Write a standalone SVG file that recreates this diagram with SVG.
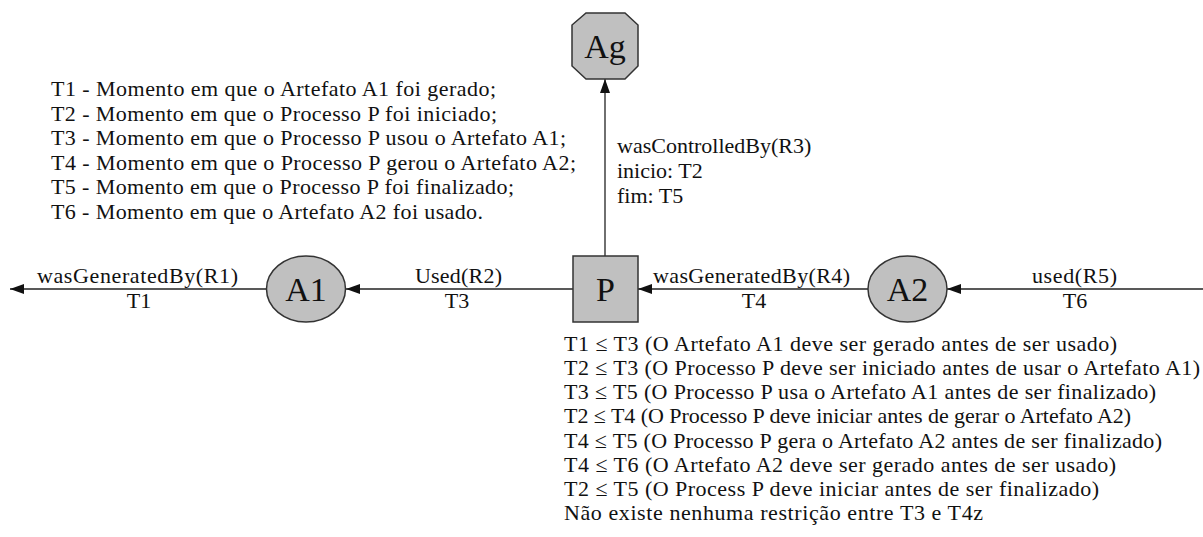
<svg xmlns="http://www.w3.org/2000/svg" width="1203" height="537" viewBox="0 0 1203 537">
  <style>
    .node { fill: #c0c0c0; stroke: #333; stroke-width: 1.5; }
    .label { font-size: 34px; text-anchor: middle; fill: #111; }
    .edge { stroke: #222; stroke-width: 1.3; fill: none; }
    .elabel { font-size: 22px; text-anchor: middle; fill: #111; }
    .note { font-size: 22px; fill: #111; }
  </style>
  <defs>
    <marker id="arrow" markerUnits="userSpaceOnUse" markerWidth="14" markerHeight="10" refX="14" refY="5" orient="auto">
      <path d="M0,0 L14,5 L0,10 z" fill="#111"/>
    </marker>
  </defs>
  <rect width="1203" height="537" fill="#fff"/>

  <!-- legend of moments -->
  <g id="legend" class="note" font-family="Liberation Serif">
    <text x="51" y="96" textLength="445" lengthAdjust="spacing">T1 - Momento em que o Artefato A1 foi gerado;</text>
    <text x="51" y="121" textLength="446" lengthAdjust="spacing">T2 - Momento em que o Processo P foi iniciado;</text>
    <text x="51" y="145" textLength="515" lengthAdjust="spacing">T3 - Momento em que o Processo P usou o Artefato A1;</text>
    <text x="51" y="170" textLength="525" lengthAdjust="spacing">T4 - Momento em que o Processo P gerou o Artefato A2;</text>
    <text x="51" y="194" textLength="463" lengthAdjust="spacing">T5 - Momento em que o Processo P foi finalizado;</text>
    <text x="51" y="219" textLength="432" lengthAdjust="spacing">T6 - Momento em que o Artefato A2 foi usado.</text>
  </g>

  <!-- connectors -->
  <g id="edges" font-family="Liberation Serif">
    <line class="edge" x1="267" y1="289" x2="10" y2="289" marker-end="url(#arrow)"/>
    <line class="edge" x1="573" y1="289" x2="346" y2="289" marker-end="url(#arrow)"/>
    <line class="edge" x1="868" y1="289" x2="638" y2="289" marker-end="url(#arrow)"/>
    <line class="edge" x1="1203" y1="289" x2="947" y2="289" marker-end="url(#arrow)"/>
    <line class="edge" x1="605" y1="256" x2="605" y2="79" marker-end="url(#arrow)"/>

    <text class="elabel" x="137.5" y="283" textLength="201" lengthAdjust="spacing">wasGeneratedBy(R1)</text>
    <text class="elabel" x="139" y="308">T1</text>
    <text class="elabel" x="458.5" y="283" textLength="87" lengthAdjust="spacing">Used(R2)</text>
    <text class="elabel" x="457" y="308">T3</text>
    <text class="elabel" x="751.5" y="283" textLength="197" lengthAdjust="spacing">wasGeneratedBy(R4)</text>
    <text class="elabel" x="754" y="308">T4</text>
    <text class="elabel" x="1074.5" y="283" textLength="85" lengthAdjust="spacing">used(R5)</text>
    <text class="elabel" x="1075" y="308">T6</text>

    <text class="note" x="617" y="153">wasControlledBy(R3)</text>
    <text class="note" x="617" y="178">inicio: T2</text>
    <text class="note" x="617" y="203">fim: T5</text>
  </g>

  <!-- nodes -->
  <g id="Ag" font-family="Liberation Serif">
    <polygon class="node" points="586,13 625,13 638,25 638,66 625,79 586,79 572,66 572,25"/>
    <text class="label" x="605" y="58">Ag</text>
  </g>
  <g id="P" font-family="Liberation Serif">
    <rect class="node" x="573" y="256" width="65" height="66"/>
    <text class="label" x="605.5" y="301">P</text>
  </g>
  <g id="A1" font-family="Liberation Serif">
    <ellipse class="node" cx="306" cy="289" rx="39.5" ry="33"/>
    <text class="label" x="306" y="301">A1</text>
  </g>
  <g id="A2" font-family="Liberation Serif">
    <ellipse class="node" cx="907.5" cy="289" rx="39.5" ry="33"/>
    <text class="label" x="907.5" y="301">A2</text>
  </g>

  <!-- temporal constraints -->
  <g id="constraints" class="note" font-family="Liberation Serif">
    <text x="564" y="351" textLength="553" lengthAdjust="spacing">T1 ≤ T3 (O Artefato A1 deve ser gerado antes de ser usado)</text>
    <text x="564" y="375" textLength="636" lengthAdjust="spacing">T2 ≤ T3 (O Processo P deve ser iniciado antes de usar o Artefato A1)</text>
    <text x="564" y="399" textLength="592" lengthAdjust="spacing">T3 ≤ T5 (O Processo P usa o Artefato A1 antes de ser finalizado)</text>
    <text x="564" y="423" textLength="567" lengthAdjust="spacing">T2 ≤ T4 (O Processo P deve iniciar antes de gerar o Artefato A2)</text>
    <text x="564" y="448" textLength="598" lengthAdjust="spacing">T4 ≤ T5 (O Processo P gera o Artefato A2 antes de ser finalizado)</text>
    <text x="564" y="472" textLength="552" lengthAdjust="spacing">T4 ≤ T6 (O Artefato A2 deve ser gerado antes de ser usado)</text>
    <text x="564" y="496" textLength="535" lengthAdjust="spacing">T2 ≤ T5 (O Process P deve iniciar antes de ser finalizado)</text>
    <text x="564" y="520" textLength="419" lengthAdjust="spacing">Não existe nenhuma restrição entre T3 e T4z</text>
  </g>
</svg>
